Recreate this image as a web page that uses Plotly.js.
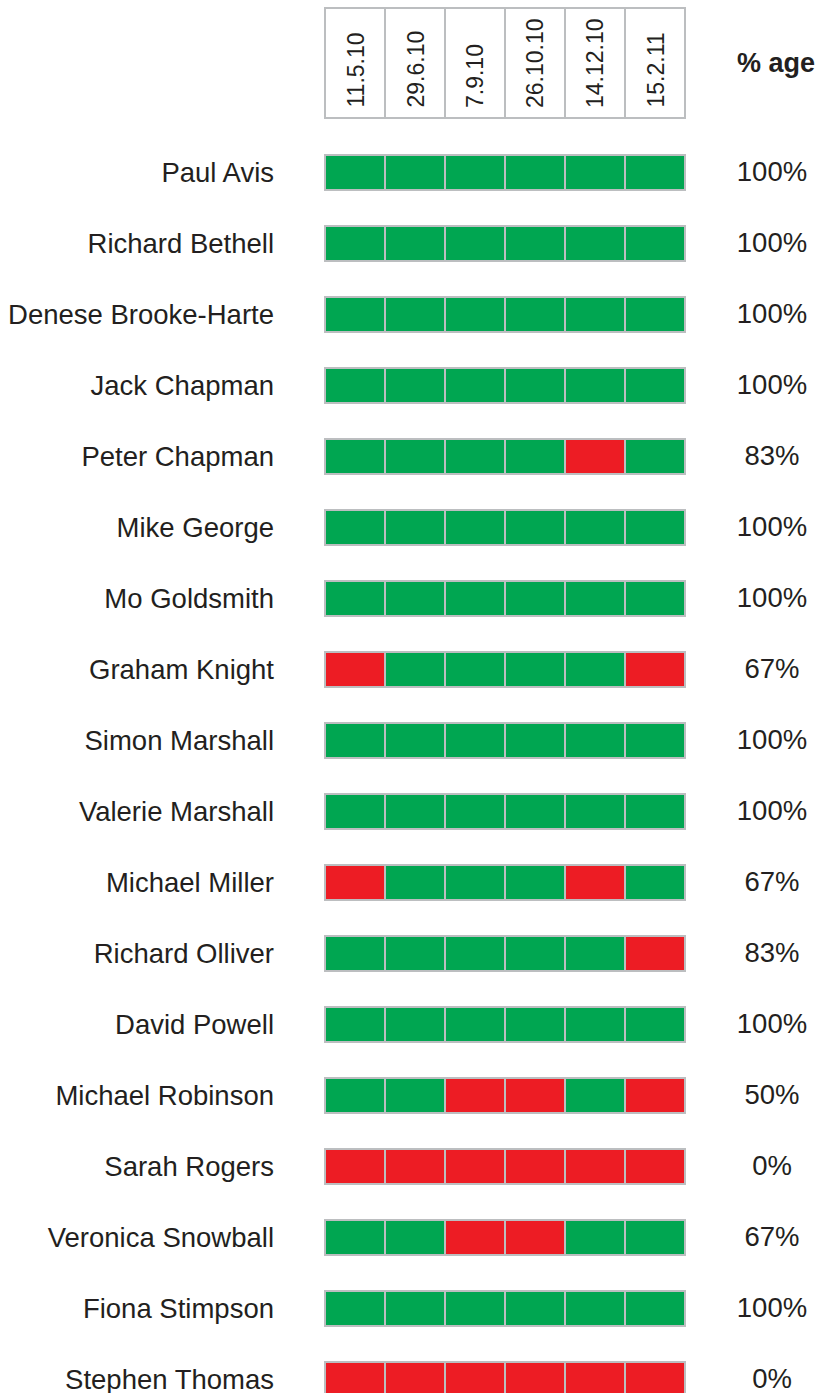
<!DOCTYPE html>
<html>
<head>
<meta charset="utf-8">
<script src="https://cdn.plot.ly/plotly-3.0.1.min.js"></script>
<style>html,body{margin:0;padding:0;background:#fff;}#chart{width:819px;height:1393px;}</style>
</head>
<body>
<div id="chart"></div>
<script>
// ---- data ----
var dates = ["11.5.10", "29.6.10", "7.9.10", "26.10.10", "14.12.10", "15.2.11"];
var names = ["Paul Avis", "Richard Bethell", "Denese Brooke-Harte", "Jack Chapman", "Peter Chapman",
  "Mike George", "Mo Goldsmith", "Graham Knight", "Simon Marshall", "Valerie Marshall",
  "Michael Miller", "Richard Olliver", "David Powell", "Michael Robinson", "Sarah Rogers",
  "Veronica Snowball", "Fiona Stimpson", "Stephen Thomas"];
// 1 = attended, 0 = absent (one row per person, one column per date)
var attendance = [
  [1,1,1,1,1,1],
  [1,1,1,1,1,1],
  [1,1,1,1,1,1],
  [1,1,1,1,1,1],
  [1,1,1,1,0,1],
  [1,1,1,1,1,1],
  [1,1,1,1,1,1],
  [0,1,1,1,1,0],
  [1,1,1,1,1,1],
  [1,1,1,1,1,1],
  [0,1,1,1,0,1],
  [1,1,1,1,1,0],
  [1,1,1,1,1,1],
  [1,1,0,0,1,0],
  [0,0,0,0,0,0],
  [1,1,0,0,1,1],
  [1,1,1,1,1,1],
  [0,0,0,0,0,0]
];
var pctLabels = ["100%","100%","100%","100%","83%","100%","100%","67%","100%","100%",
  "67%","83%","100%","50%","0%","67%","100%","0%"];
var pctHeader = "% age";

// ---- style ----
var GREEN = "#00a651", RED = "#ed1c24", BORDER = "#bcbec0", TXT = "#231f20";
var FONT = "Liberation Sans, Arial, sans-serif";
var W = 819, H = 1393;
var pxX = 60, x0px = 325;           // column width and left edge of grid
var pxY = 71, row0px = 172.5;       // row pitch and centre of first row
var headerCenterPx = 63, headerHeightPx = 112, headerTextBottomPx = 110;
var nameRightPx = 274, pctCenterPx = 772, pctHeadPx = 776;

var xr0 = -x0px / pxX;
var xr1 = xr0 + W / pxX;
var yTop = -row0px / pxY;
var yBot = yTop + H / pxY;
var headerY = (headerCenterPx - row0px) / pxY;
var headerW = (headerHeightPx - 2) / pxY;
var cellW = 35 / pxY;
var toX = function(px){ return (px - x0px) / pxX; };

var rows = names.map(function(_, i){ return i; });
var traces = [];
dates.forEach(function(d, j){
  var y = [headerY].concat(rows);
  var x = y.map(function(){ return 1; });
  var colors = ["#ffffff"].concat(attendance.map(function(r){ return r[j] ? GREEN : RED; }));
  var widths = [headerW].concat(rows.map(function(){ return cellW; }));
  traces.push({
    type: "bar", orientation: "h", x: x, y: y, width: widths,
    marker: {color: colors, line: {color: BORDER, width: 2}},
    hoverinfo: "skip", showlegend: false
  });
});
traces.push({
  type: "scatter", mode: "text", x: rows.map(function(){ return toX(nameRightPx); }),
  y: rows.map(function(i){ return i + 3 / pxY; }),
  text: names, textposition: "middle left", cliponaxis: false,
  textfont: {family: FONT, size: 27.5, color: TXT}, hoverinfo: "skip", showlegend: false
});
traces.push({
  type: "scatter", mode: "text", x: rows.map(function(){ return toX(pctCenterPx); }),
  y: rows.map(function(i){ return i + 2 / pxY; }),
  text: pctLabels, textposition: "middle center", cliponaxis: false,
  textfont: {family: FONT, size: 27.5, color: TXT}, hoverinfo: "skip", showlegend: false
});

var annotations = dates.map(function(d, j){
  return {
    x: j + 0.5, y: (headerTextBottomPx - row0px) / pxY, xref: "x", yref: "y",
    text: d, textangle: -90, showarrow: false, xanchor: "center", yanchor: "bottom",
    font: {family: FONT, size: 23, color: TXT}
  };
});
annotations.push({
  x: toX(pctHeadPx), y: headerY, xref: "x", yref: "y", text: "<b>" + pctHeader + "</b>",
  showarrow: false, xanchor: "center", yanchor: "middle",
  font: {family: FONT, size: 27, color: TXT}
});

var layout = {
  width: W, height: H,
  margin: {l: 0, r: 0, t: 0, b: 0, pad: 0},
  paper_bgcolor: "#ffffff", plot_bgcolor: "#ffffff",
  barmode: "stack", bargap: 0,
  xaxis: {range: [xr0, xr1], showgrid: false, zeroline: false, showticklabels: false,
    showline: false, ticks: "", fixedrange: true},
  yaxis: {range: [yBot, yTop], showgrid: false, zeroline: false, showline: false,
    showticklabels: false, ticks: "", fixedrange: true},
  annotations: annotations,
  showlegend: false
};

Plotly.newPlot("chart", traces, layout, {staticPlot: true, displayModeBar: false});
</script>
</body>
</html>
